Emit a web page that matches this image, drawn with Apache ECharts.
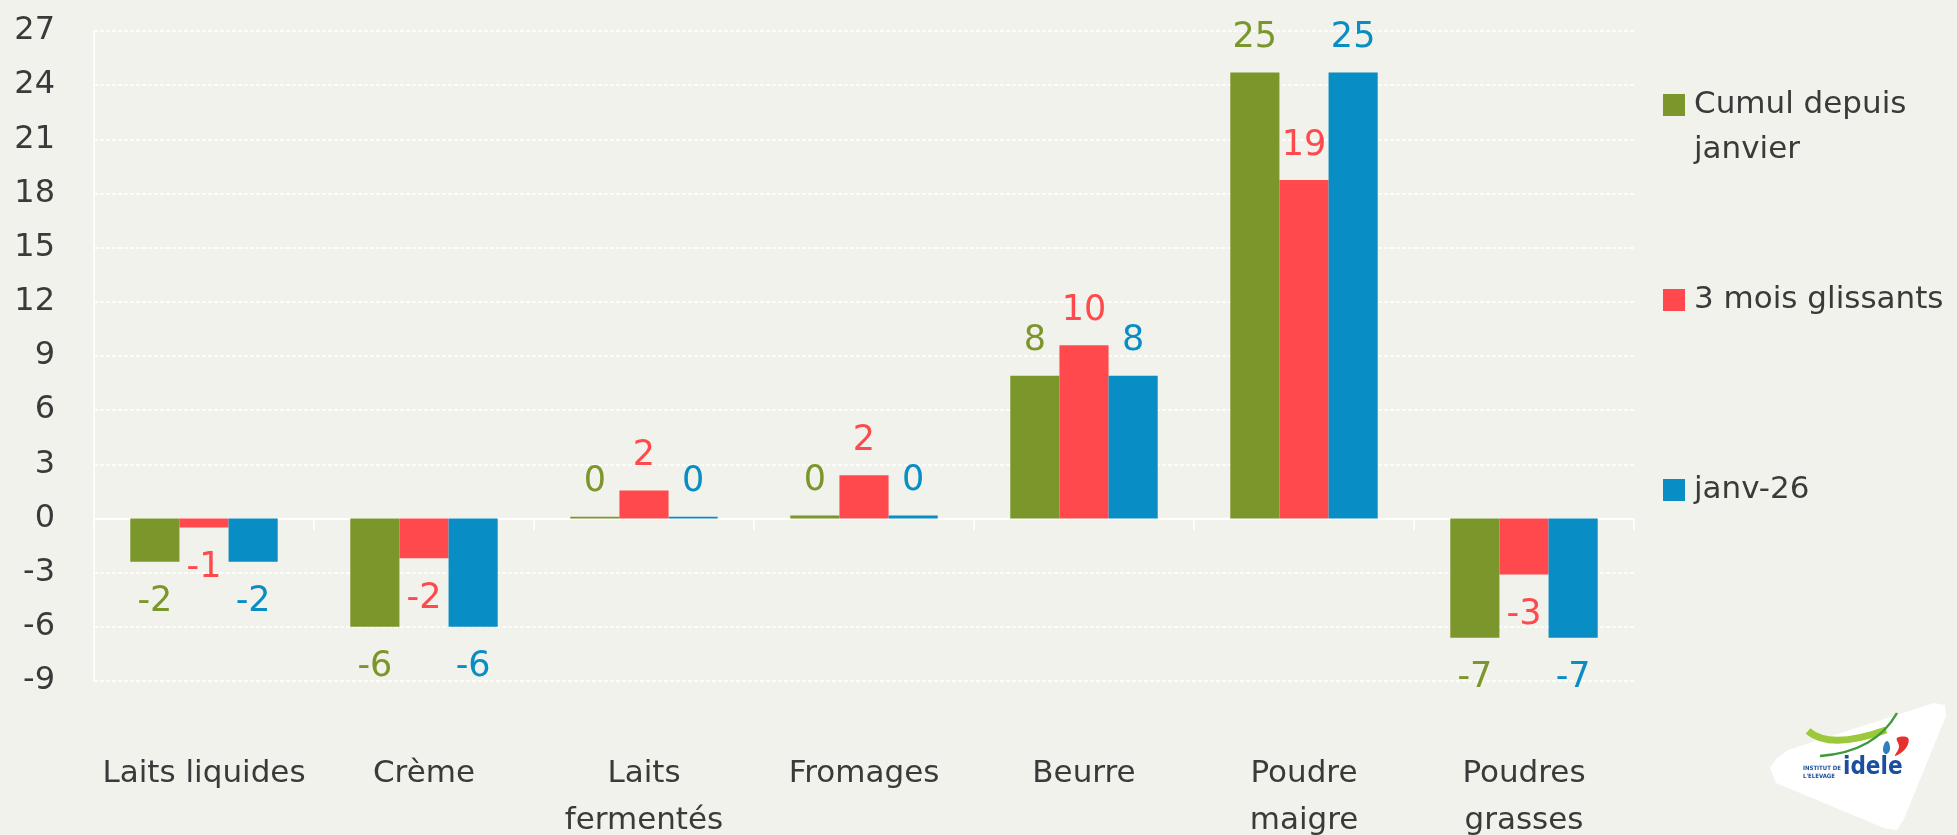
<!DOCTYPE html>
<html>
<head>
    <meta charset="utf-8">
    <title>Evolution des fabrications</title>
    <script type="text/javascript" src="https://cdn.jsdelivr.net/npm/echarts@6/dist/echarts.min.js"></script>
    <style type="text/css">
        html, body { margin: 0; padding: 0; background: #F1F2EB; }
        #main { width: 1957px; height: 835px; }
    </style>
</head>
<body>

<div id="main"></div>

<script type="text/javascript">

    // données (% d'évolution)
    var categories = ['Laits liquides', 'Crème', 'Laits\nfermentés', 'Fromages', 'Beurre', 'Poudre\nmaigre', 'Poudres\ngrasses'];
    var cumulJanvier = [-2.4, -6.0, 0.1, 0.17, 7.9, 24.7, -6.6];
    var troisMois = [-0.5, -2.2, 1.55, 2.4, 9.6, 18.75, -3.1];
    var janv26 = [-2.4, -6.0, 0.1, 0.17, 7.9, 24.7, -6.6];
    var seriesNames = ['Cumul depuis janvier', '3 mois glissants', 'janv-26'];
    var colors = ['#7B962A', '#FF494C', '#088DC5'];
    var yTicks = { min: -9, max: 27, step: 3 };

    var textColor = '#3a3a3a';
    var font = 'DejaVu Sans';

    // arrondi comme Excel (loin de zéro)
    function roundLabel(v) {
        var r = Math.round(Math.abs(v));
        return r === 0 ? '0' : (v < 0 ? '-' : '') + r;
    }

    function buildData(values) {
        return values.map(function (v) {
            return {
                value: v,
                label: v < 0 ? { position: 'bottom', distance: 23 } : { position: 'top', distance: 17 }
            };
        });
    }

    function makeSeries(name, values, color) {
        return {
            name: name,
            type: 'bar',
            data: buildData(values),
            barGap: '0%',
            barCategoryGap: '33%',
            itemStyle: { color: color },
            label: {
                show: true,
                color: color,
                fontFamily: font,
                fontSize: 35,
                lineHeight: 35,
                formatter: function (p) { return roundLabel(p.value); }
            }
        };
    }

    function makeLegend(name, top) {
        return {
            data: [name],
            left: 1663,
            top: top,
            orient: 'vertical',
            padding: 0,
            icon: 'rect',
            itemWidth: 22,
            itemHeight: 22,
            selectedMode: false,
            // ligne vide en tête pour garder le carré en face de la 1re ligne
            formatter: function (n) { return n === 'Cumul depuis janvier' ? '\nCumul depuis\njanvier' : n; },
            textStyle: {
                color: textColor,
                fontFamily: font,
                fontSize: 31,
                lineHeight: 45,
                padding: [0, 0, 0, 4]
            }
        };
    }

    var myChart = echarts.init(document.getElementById('main'));

    var option = {
        backgroundColor: '#F1F2EB',
        animation: false,
        color: colors,
        grid: {
            left: 94,
            right: 323,
            top: 31,
            bottom: 154,
            containLabel: false,
            outerBoundsMode: 'none'
        },
        legend: [
            makeLegend(seriesNames[0], 37.5),
            makeLegend(seriesNames[1], 277.5),
            makeLegend(seriesNames[2], 467.5)
        ],
        xAxis: {
            type: 'category',
            data: categories,
            axisLine: { onZero: true, lineStyle: { color: '#ffffff', width: 2 } },
            axisTick: { show: true, length: 12, lineStyle: { color: '#ffffff', width: 1.5 } },
            axisLabel: {
                interval: 0,
                margin: 69,
                color: textColor,
                fontFamily: font,
                fontSize: 31,
                lineHeight: 47
            },
            splitLine: { show: false }
        },
        yAxis: {
            type: 'value',
            min: yTicks.min,
            max: yTicks.max,
            interval: yTicks.step,
            axisLine: { show: true, lineStyle: { color: '#ffffff', width: 1.5 } },
            axisTick: { show: false },
            axisLabel: {
                margin: 39,
                color: textColor,
                fontFamily: font,
                fontSize: 32
            },
            splitLine: { lineStyle: { color: '#ffffff', width: 1.5, type: [4, 2] } }
        },
        graphic: [
            // logo idele en bas à droite
            {
                type: 'polygon',
                shape: { points: [[1777, 758], [1770, 768], [1776, 783], [1884, 828], [1897, 830], [1904, 819], [1946, 716], [1945, 705], [1934, 703], [1788, 750]] },
                style: { fill: '#ffffff' },
                z: 10
            },
            {
                type: 'bezierCurve',
                shape: { x1: 1808, y1: 731, cpx1: 1830, cpy1: 750, x2: 1886, y2: 730 },
                style: { fill: 'none', stroke: '#9CC93B', lineWidth: 7 },
                z: 11
            },
            {
                type: 'bezierCurve',
                shape: { x1: 1820, y1: 756, cpx1: 1875, cpy1: 752, x2: 1897, y2: 713 },
                style: { fill: 'none', stroke: '#3E9A3A', lineWidth: 2.5 },
                z: 11
            },
            {
                type: 'polygon',
                shape: { points: [[1897, 738], [1908, 738], [1906, 748], [1895, 756], [1899, 747]], smooth: 0.4 },
                style: { fill: '#E8312F' },
                z: 11
            },
            {
                type: 'polygon',
                shape: { points: [[1887, 741], [1890, 749], [1886, 754], [1883, 749]], smooth: 0.5 },
                style: { fill: '#2D7FC1' },
                z: 11
            },
            {
                type: 'text',
                left: 1803,
                top: 764,
                style: { text: 'INSTITUT DE\nL\'ELEVAGE', fill: '#1D4E9E', font: 'bold 6px "DejaVu Sans Condensed", "DejaVu Sans"', lineHeight: 8 },
                z: 11
            },
            {
                type: 'text',
                left: 1843,
                top: 756,
                style: { text: 'idele', fill: '#1D4E9E', font: 'bold 24px "DejaVu Sans Condensed", "DejaVu Sans"' },
                z: 11
            }
        ],
        series: [
            makeSeries(seriesNames[0], cumulJanvier, colors[0]),
            makeSeries(seriesNames[1], troisMois, colors[1]),
            makeSeries(seriesNames[2], janv26, colors[2])
        ]
    };

    myChart.setOption(option);
</script>

</body>
</html>
